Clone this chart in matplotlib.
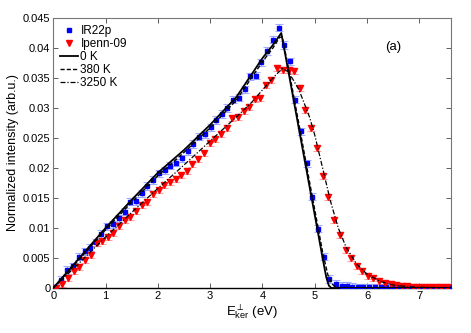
import numpy as np
import matplotlib
matplotlib.use('Agg')
import matplotlib.pyplot as plt
from matplotlib.ticker import FuncFormatter

# measured data: IR22p (blue squares)
ir_x = [0.03, 0.15, 0.27, 0.38, 0.49, 0.60, 0.70, 0.81, 0.92, 1.03, 1.15, 1.26, 1.37, 1.47,
        1.58, 1.69, 1.80, 1.91, 2.02, 2.13, 2.24, 2.35, 2.46, 2.57, 2.68, 2.79, 2.90, 3.01,
        3.12, 3.22, 3.33, 3.44, 3.55, 3.66, 3.77, 3.88, 3.98, 4.09, 4.20, 4.31, 4.42, 4.52,
        4.63, 4.73, 4.85, 4.95, 5.06, 5.17, 5.28, 5.40, 5.52, 5.61, 5.71, 5.82, 5.93, 6.04,
        6.15, 6.26, 6.37, 6.48, 6.59, 6.70, 6.81, 6.92, 7.03, 7.14, 7.25, 7.36, 7.47, 7.58]
ir_y = [0.0000, 0.0014, 0.0030, 0.0036, 0.0052, 0.0061, 0.0067, 0.0076, 0.0090, 0.0103,
        0.0106, 0.0116, 0.0127, 0.0144, 0.0145, 0.0158, 0.0170, 0.0180, 0.0191, 0.0196,
        0.0204, 0.0209, 0.0216, 0.0228, 0.0240, 0.0252, 0.0256, 0.0268, 0.0280, 0.0290,
        0.0300, 0.0314, 0.0317, 0.0331, 0.0353, 0.0354, 0.0376, 0.0395, 0.0414, 0.0434,
        0.0405, 0.0378, 0.0314, 0.0261, 0.0208, 0.0152, 0.0099, 0.0052, 0.0015, 0.0007,
        0.0004, 0.0004, 0.0002, 0.00015, 0.0001, 0.0001, 0.0001, 0.0001, 0.0001, 0.0001,
        0.0001, 0.0001, 0.0001, 0.0001, 0.0001, 0.0001, 0.0001, 0.0001, 0.0001, 0.0001]

# measured data: Ipenn-09 (red triangles)
ip_x = [0.05, 0.17, 0.29, 0.40, 0.50, 0.61, 0.72, 0.83, 0.93, 1.04, 1.15, 1.26, 1.37, 1.47,
        1.58, 1.69, 1.80, 1.91, 2.02, 2.12, 2.23, 2.34, 2.45, 2.56, 2.66, 2.77, 2.88, 2.99,
        3.10, 3.21, 3.32, 3.42, 3.53, 3.64, 3.74, 3.85, 3.96, 4.06, 4.17, 4.28, 4.39, 4.50,
        4.61, 4.71, 4.82, 4.93, 5.04, 5.15, 5.26, 5.37, 5.48, 5.59, 5.69, 5.80, 5.91, 6.01,
        6.12, 6.23, 6.34, 6.45, 6.55, 6.66, 6.77, 6.88, 6.98, 7.09, 7.20, 7.31, 7.42, 7.53]
ip_y = [0.0000, 0.0007, 0.0017, 0.0029, 0.0035, 0.0047, 0.0055, 0.0075, 0.0078, 0.0085,
        0.0092, 0.0103, 0.0114, 0.0118, 0.0128, 0.0139, 0.0144, 0.0157, 0.0163, 0.0172,
        0.0176, 0.0182, 0.0188, 0.0195, 0.0207, 0.0215, 0.0225, 0.0242, 0.0248, 0.0256,
        0.0266, 0.0283, 0.0285, 0.0295, 0.0302, 0.0315, 0.0317, 0.0338, 0.0347, 0.0366,
        0.0364, 0.0363, 0.0362, 0.0333, 0.0296, 0.0266, 0.0233, 0.0186, 0.0152, 0.0113,
        0.0089, 0.0064, 0.0050, 0.0037, 0.0028, 0.0020, 0.0017, 0.0011, 0.0009, 0.0006,
        0.0005, 0.0004, 0.0003, 0.0002, 0.0002, 0.0002, 0.0002, 0.0001, 0.0001, 0.0001]

ir_err = 0.0006
ip_err = 0.0005

# simulated curves
k0_x = [0, 0.5, 1.0, 1.5, 2.0, 2.5, 3.0, 3.5, 4.0, 4.2, 4.36, 4.5, 4.7, 4.9, 5.05, 5.15,
        5.22, 5.27, 5.32, 7.6]
k0_y = [0, 0.0050, 0.0100, 0.0147, 0.0192, 0.0230, 0.0272, 0.0318, 0.0383, 0.0405, 0.0425,
        0.0359, 0.0264, 0.0169, 0.0098, 0.0050, 0.0018, 0.0004, 0, 0]

k380_x = [0, 0.5, 1.0, 1.5, 2.0, 2.5, 3.0, 3.5, 4.0, 4.2, 4.33, 4.38, 4.5, 4.7, 4.9, 5.05,
          5.15, 5.25, 5.32, 5.4, 7.6]
k380_y = [0, 0.0048, 0.0097, 0.0143, 0.0187, 0.0226, 0.0267, 0.0313, 0.0377, 0.0400, 0.0418,
          0.0418, 0.0365, 0.0272, 0.0177, 0.0107, 0.0060, 0.0022, 0.0008, 0.0001, 0]

k3250_x = [0, 0.5, 1.0, 1.5, 2.0, 2.5, 3.0, 3.5, 3.8, 4.0, 4.2, 4.38, 4.5, 4.7, 4.9, 5.0,
           5.15, 5.3, 5.45, 5.6, 5.8, 6.0, 6.25, 6.5, 6.8, 7.2, 7.6]
k3250_y = [0, 0.0042, 0.0085, 0.0126, 0.0166, 0.0205, 0.0245, 0.0285, 0.0310, 0.0330, 0.0350,
           0.0366, 0.0360, 0.0330, 0.0285, 0.0255, 0.0200, 0.0145, 0.0100, 0.0068, 0.0040,
           0.0023, 0.0011, 0.0005, 0.0002, 0.0001, 0]

plt.rcParams['font.family'] = ['Liberation Sans', 'DejaVu Sans']
plt.rcParams['mathtext.fontset'] = 'custom'
plt.rcParams['mathtext.rm'] = 'Liberation Sans'
plt.rcParams['mathtext.it'] = 'Liberation Sans'

fig = plt.figure(figsize=(4.71, 3.33), dpi=100)
ax = fig.add_axes([0.113, 0.135, 0.844, 0.811])

ax.errorbar(ir_x, ir_y, yerr=ir_err, fmt='none', ecolor=(0.55, 0.6, 1.0), elinewidth=0.8,
            capsize=3, capthick=0.8, alpha=0.8, zorder=2)
ax.errorbar(ip_x, ip_y, yerr=ip_err, fmt='none', ecolor=(1.0, 0.55, 0.55), elinewidth=0.8,
            capsize=3, capthick=0.8, alpha=0.8, zorder=2)
ax.plot(ir_x, ir_y, 's', color='#0000ff', ms=3.2, mec='#0000ff', label='IR22p', zorder=3)
ax.plot(ip_x, ip_y, 'v', color='#ff0000', ms=4.2, mec='#ff0000', label='Ipenn-09', zorder=3)

ax.plot(k0_x, k0_y, '-', color='k', lw=1.3, label='0 K', zorder=4)
ax.plot(k380_x, k380_y, '--', color='k', lw=1.0, dashes=(3, 1.5), label='380 K', zorder=4)
ax.plot(k3250_x, k3250_y, '-.', color='k', lw=0.9, dashes=(4, 1.5, 1, 1.5), label='3250 K', zorder=4)

ax.set_xlim(0, 7.6)
ax.set_ylim(0, 0.045)
ax.set_xticks(range(8))
ax.set_yticks(np.arange(0, 0.0451, 0.005))
ax.yaxis.set_major_formatter(FuncFormatter(lambda v, p: '%g' % round(v, 4)))
ax.tick_params(direction='in', top=True, right=True, length=3.5, width=0.6,
               labelsize=8, pad=2, colors='#444444', labelcolor='black')
for side in ['top', 'right', 'left']:
    ax.spines[side].set_color('#777777')
    ax.spines[side].set_linewidth(0.8)
ax.spines['bottom'].set_color('black')
ax.spines['bottom'].set_linewidth(1.0)

ax.set_xlabel(r'E$_{\rm ker}^{\perp}$ (eV)', fontsize=9.5, labelpad=1)
ax.set_ylabel('Normalized intensity (arb.u.)', fontsize=9, labelpad=3)

ax.text(6.5, 0.0402, '(a)', fontsize=9.5, ha='center', va='center')

ax.legend(loc='upper left', bbox_to_anchor=(0.018, 0.975), frameon=False, fontsize=8.5,
          handlelength=1.5, handletextpad=0.2, labelspacing=0.1, numpoints=1,
          borderaxespad=0, borderpad=0)

fig.savefig('out.png', dpi=100)
